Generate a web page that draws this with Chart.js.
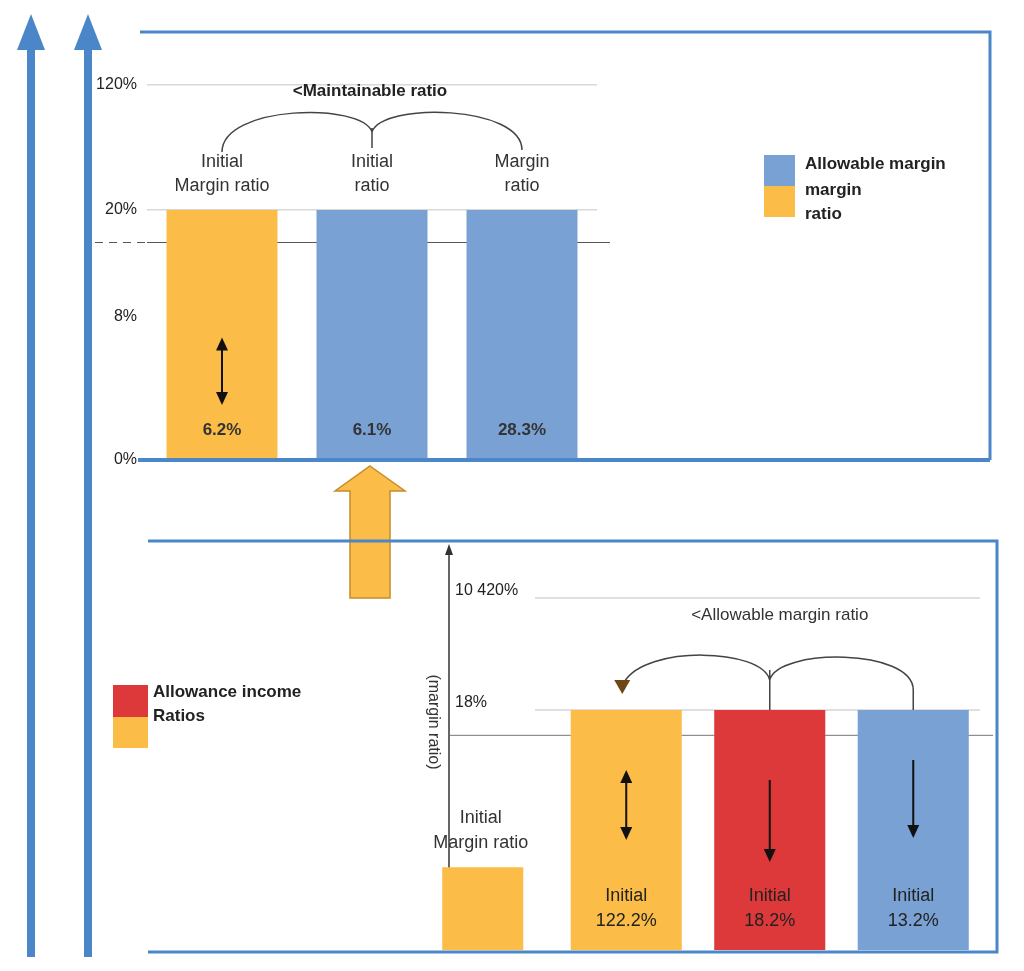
<!DOCTYPE html>
<html>
<head>
<meta charset="utf-8">
<script src="https://cdn.jsdelivr.net/npm/chart.js@4.4.1/dist/chart.umd.min.js"></script>
<style>
body { margin: 0; background: #fff; }
#wrap { position: relative; width: 1024px; height: 971px; }
#wrap canvas { position: absolute; left: 0; top: 0; }
</style>
</head>
<body>
<div id="wrap">
    <canvas id="bottomChart" width="1024" height="971"></canvas>
    <canvas id="topChart" width="1024" height="971"></canvas>
</div>
<script>
var orange = "252, 189, 72"
var blue = "122, 161, 211"
var red = "221, 57, 58"
var frameBlue = "74, 134, 200"
var font = "'Liberation Sans', Arial, sans-serif"

// top panel
var topCategories = [['Initial', 'Margin ratio'], ['Initial', 'ratio'], ['Margin', 'ratio']];
var topValues = [20, 20, 20];
var topValueLabels = ['6.2%', '6.1%', '28.3%'];
var topTickValues = [0, 11.5, 20, 30];
var topTickLabels = ['0%', '8%', '20%', '120%'];
var topRefLine = 17.4;
var topArrows = [[0, 4.4, 9.8, true]]; // bar index, from, to, double headed
var topTitle = '<Maintainable ratio';
var topLegend = ['Allowable margin', 'margin', 'ratio'];

// bottom panel
var bottomCategories = [['Initial', 'Margin ratio'], ['Initial'], ['Initial'], ['Initial']];
var bottomValues = [6.2, 18, 18, 18];
var bottomValueLabels = ['', '122.2%', '18.2%', '13.2%'];
var bottomTickValues = [18, 26.4];
var bottomTickLabels = ['18%', '10 420%'];
var bottomRefLine = 16.1;
var bottomArrows = [[1, 8.25, 13.5, true], [2, 12.75, 6.6, false], [3, 14.25, 8.4, false]];
var bottomTitle = '<Allowable margin ratio';
var bottomAxisTitle = '(margin ratio)';
var bottomLegend = ['Allowance income', 'Ratios'];

function rgb(c) { return 'rgb(' + c + ')'; }

function arrow(ctx, x, y1, y2, both) {
    var dir = y2 > y1 ? 1 : -1;
    ctx.save();
    ctx.strokeStyle = '#111';
    ctx.fillStyle = '#111';
    ctx.lineWidth = 2;
    ctx.beginPath();
    ctx.moveTo(x, y1 + (both ? dir * 8 : 0));
    ctx.lineTo(x, y2 - dir * 8);
    ctx.stroke();
    var head = function (y, d) {
        ctx.beginPath();
        ctx.moveTo(x, y);
        ctx.lineTo(x - 6, y - d * 13);
        ctx.lineTo(x + 6, y - d * 13);
        ctx.closePath();
        ctx.fill();
    };
    head(y2, dir);
    if (both) head(y1, -dir);
    ctx.restore();
}

function text(ctx, str, x, y, size, weight, color, align) {
    ctx.font = (weight || 'normal') + ' ' + size + 'px ' + font;
    ctx.fillStyle = color || '#333';
    ctx.textAlign = align || 'center';
    ctx.textBaseline = 'middle';
    ctx.fillText(str, x, y);
}

var topDecor = {
    id: 'topDecor',
    beforeDatasetsDraw: function (chart) {
        var ctx = chart.ctx, y = chart.scales.y.getPixelForValue(topRefLine);
        ctx.save();
        ctx.strokeStyle = '#555';
        ctx.lineWidth = 1;
        ctx.setLineDash([8, 6]);
        ctx.beginPath(); ctx.moveTo(95, y); ctx.lineTo(chart.chartArea.left, y); ctx.stroke();
        ctx.setLineDash([]);
        ctx.beginPath(); ctx.moveTo(chart.chartArea.left, y); ctx.lineTo(610, y); ctx.stroke();
        ctx.restore();
    },
    afterDatasetsDraw: function (chart) {
        var ctx = chart.ctx, xs = chart.scales.x, ys = chart.scales.y;
        ctx.save();
        // frame
        ctx.strokeStyle = rgb(frameBlue);
        ctx.lineWidth = 3;
        ctx.beginPath(); ctx.moveTo(140, 32); ctx.lineTo(990, 32); ctx.lineTo(990, 460); ctx.stroke();
        ctx.lineWidth = 4;
        ctx.beginPath(); ctx.moveTo(138, 460); ctx.lineTo(990, 460); ctx.stroke();

        topCategories.forEach(function (lines, i) {
            var x = xs.getPixelForValue(i);
            text(ctx, lines[0], x, 162, 18, 'normal', '#333');
            text(ctx, lines[1], x, 186, 18, 'normal', '#333');
            text(ctx, topValueLabels[i], x, ys.getPixelForValue(2.4), 17, 'bold', '#333');
        });
        topArrows.forEach(function (a) {
            arrow(ctx, xs.getPixelForValue(a[0]), ys.getPixelForValue(a[1]), ys.getPixelForValue(a[2]), a[3]);
        });

        var x0 = xs.getPixelForValue(0), x1 = xs.getPixelForValue(1), x2 = xs.getPixelForValue(2);
        text(ctx, topTitle, x1 - 2, 91, 17, 'bold', '#222');
        ctx.strokeStyle = '#444';
        ctx.lineWidth = 1.5;
        ctx.beginPath();
        ctx.moveTo(x0, 152);
        ctx.bezierCurveTo(x0, 105, x1 - 10, 102, x1, 132);
        ctx.bezierCurveTo(x1 + 10, 102, x2, 105, x2, 150);
        ctx.moveTo(x1, 128); ctx.lineTo(x1, 148);
        ctx.stroke();

        // legend
        var ds = chart.data.datasets[0];
        ctx.fillStyle = ds.backgroundColor[1];
        ctx.fillRect(764, 155, 31, 31);
        ctx.fillStyle = ds.backgroundColor[0];
        ctx.fillRect(764, 186, 31, 31);
        text(ctx, topLegend[0], 805, 164, 17, 'bold', '#222', 'left');
        text(ctx, topLegend[1], 805, 190, 17, 'bold', '#222', 'left');
        text(ctx, topLegend[2], 805, 214, 17, 'bold', '#222', 'left');
        ctx.restore();
    }
};

var bottomDecor = {
    id: 'bottomDecor',
    beforeDraw: function (chart) {
        var ctx = chart.ctx;
        ctx.save();
        // two long blue arrows on the left
        [31, 88].forEach(function (x) {
            ctx.fillStyle = rgb(frameBlue);
            ctx.fillRect(x - 4, 48, 8, 909);
            ctx.beginPath();
            ctx.moveTo(x, 14); ctx.lineTo(x + 14, 50); ctx.lineTo(x - 14, 50);
            ctx.closePath(); ctx.fill();
        });
        // orange arrow between panels
        ctx.fillStyle = rgb(orange);
        ctx.strokeStyle = 'rgb(196, 140, 42)';
        ctx.lineWidth = 1.5;
        ctx.beginPath();
        ctx.moveTo(370, 466); ctx.lineTo(405, 491); ctx.lineTo(390, 491); ctx.lineTo(390, 598);
        ctx.lineTo(350, 598); ctx.lineTo(350, 491); ctx.lineTo(335, 491);
        ctx.closePath(); ctx.fill(); ctx.stroke();
        ctx.restore();
    },
    beforeDatasetsDraw: function (chart) {
        var ctx = chart.ctx, ys = chart.scales.y;
        ctx.save();
        bottomTickValues.forEach(function (v, i) {
            var y = ys.getPixelForValue(v);
            ctx.strokeStyle = '#d4d4d4';
            ctx.lineWidth = 1.5;
            ctx.beginPath(); ctx.moveTo(535, y); ctx.lineTo(980, y); ctx.stroke();
            text(ctx, bottomTickLabels[i], 455, y - 7, 16, 'normal', '#222', 'left');
        });
        var ry = ys.getPixelForValue(bottomRefLine);
        ctx.strokeStyle = '#777';
        ctx.lineWidth = 1;
        ctx.beginPath(); ctx.moveTo(450, ry); ctx.lineTo(993, ry); ctx.stroke();
        // vertical axis with arrow
        ctx.strokeStyle = '#333';
        ctx.lineWidth = 1.5;
        ctx.beginPath(); ctx.moveTo(449, 552); ctx.lineTo(449, 876); ctx.stroke();
        ctx.fillStyle = '#333';
        ctx.beginPath(); ctx.moveTo(449, 544); ctx.lineTo(453, 555); ctx.lineTo(445, 555); ctx.closePath(); ctx.fill();
        ctx.translate(433, 722);
        ctx.rotate(Math.PI / 2);
        text(ctx, bottomAxisTitle, 0, 0, 16, 'normal', '#333');
        ctx.restore();
    },
    afterDatasetsDraw: function (chart) {
        var ctx = chart.ctx, xs = chart.scales.x, ys = chart.scales.y;
        ctx.save();
        ctx.strokeStyle = rgb(frameBlue);
        ctx.lineWidth = 3;
        ctx.beginPath(); ctx.moveTo(148, 541); ctx.lineTo(997, 541); ctx.lineTo(997, 952); ctx.lineTo(148, 952); ctx.stroke();

        bottomCategories.forEach(function (lines, i) {
            var x = xs.getPixelForValue(i);
            if (i === 0) {
                text(ctx, lines[0], x - 2, 818, 18, 'normal', '#333');
                text(ctx, lines[1], x - 2, 843, 18, 'normal', '#333');
            } else {
                text(ctx, lines[0], x, 896, 18, 'normal', '#222');
                text(ctx, bottomValueLabels[i], x, 921, 18, 'normal', '#222');
            }
        });
        bottomArrows.forEach(function (a) {
            arrow(ctx, xs.getPixelForValue(a[0]), ys.getPixelForValue(a[1]), ys.getPixelForValue(a[2]), a[3]);
        });

        var x1 = xs.getPixelForValue(1), x2 = xs.getPixelForValue(2), x3 = xs.getPixelForValue(3);
        var top = ys.getPixelForValue(bottomValues[2]);
        text(ctx, bottomTitle, x2 + 10, 615, 17, 'normal', '#333');
        ctx.strokeStyle = '#444';
        ctx.lineWidth = 1.5;
        ctx.beginPath();
        ctx.moveTo(x2, 680);
        ctx.bezierCurveTo(x2 - 8, 648, x1 + 20, 645, x1 - 2, 682);
        ctx.moveTo(x2, 680);
        ctx.bezierCurveTo(x2 + 8, 648, x3, 648, x3, 690);
        ctx.lineTo(x3, top);
        ctx.moveTo(x2, 670); ctx.lineTo(x2, top);
        ctx.stroke();
        ctx.fillStyle = 'rgb(110, 70, 20)';
        ctx.beginPath();
        ctx.moveTo(x1 - 4, 694); ctx.lineTo(x1 - 12, 680); ctx.lineTo(x1 + 4, 680);
        ctx.closePath(); ctx.fill();

        // legend
        ctx.fillStyle = rgb(red);
        ctx.fillRect(113, 685, 35, 32);
        ctx.fillStyle = rgb(orange);
        ctx.fillRect(113, 717, 35, 31);
        text(ctx, bottomLegend[0], 153, 692, 17, 'bold', '#222', 'left');
        text(ctx, bottomLegend[1], 153, 716, 17, 'bold', '#222', 'left');
        ctx.restore();
    }
};

var topChart = new Chart(document.getElementById('topChart'), {
    type: 'bar',
    data: {
        labels: topCategories,
        datasets: [{
            data: topValues,
            backgroundColor: [rgb(orange), rgb(blue), rgb(blue)],
            barPercentage: 0.74,
            categoryPercentage: 1
        }]
    },
    options: {
        responsive: false,
        animation: false,
        layout: { padding: { left: 92, right: 427, top: 85, bottom: 511 } },
        plugins: { legend: { display: false }, tooltip: { enabled: false } },
        scales: {
            x: { display: false },
            y: {
                min: 0,
                max: 30,
                afterBuildTicks: function (s) { s.ticks = topTickValues.map(function (v) { return { value: v }; }); },
                afterFit: function (s) { s.width = 55; },
                ticks: {
                    callback: function (v, i) { return topTickLabels[i]; },
                    color: '#222',
                    font: { family: font, size: 16 },
                    padding: 10
                },
                grid: {
                    drawTicks: false,
                    lineWidth: 1.5,
                    color: function (c) { return c.tick && c.tick.value >= 20 ? '#d8d8d8' : 'rgba(0,0,0,0)'; }
                },
                border: { display: false }
            }
        }
    },
    plugins: [topDecor]
});

var bottomChart = new Chart(document.getElementById('bottomChart'), {
    type: 'bar',
    data: {
        labels: bottomCategories,
        datasets: [{
            data: [bottomValues[0], null, null, null],
            backgroundColor: rgb(orange),
            barPercentage: 0.565,
            categoryPercentage: 1,
            grouped: false
        }, {
            data: [null, bottomValues[1], bottomValues[2], bottomValues[3]],
            backgroundColor: [rgb(orange), rgb(orange), rgb(red), rgb(blue)],
            barPercentage: 0.774,
            categoryPercentage: 1,
            grouped: false
        }]
    },
    options: {
        responsive: false,
        animation: false,
        layout: { padding: { left: 411, right: 39, top: 590, bottom: 21 } },
        plugins: { legend: { display: false }, tooltip: { enabled: false } },
        scales: {
            x: { display: false },
            y: { display: false, min: 0, max: 27 }
        }
    },
    plugins: [bottomDecor]
});
</script>
</body>
</html>
